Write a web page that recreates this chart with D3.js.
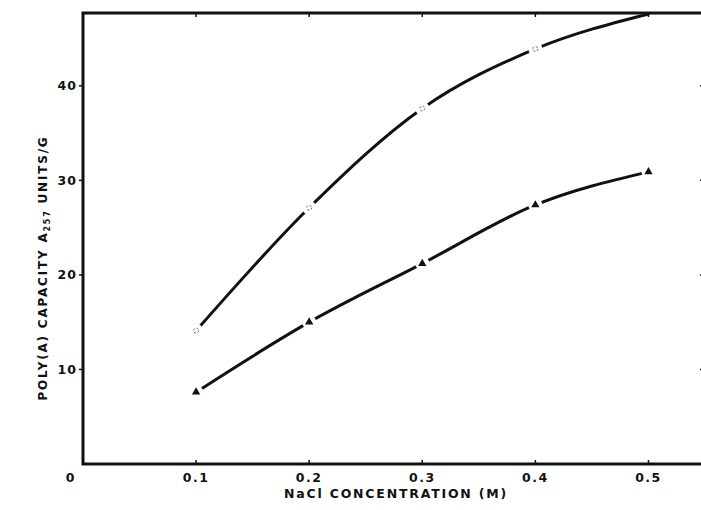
<!DOCTYPE html>
<html>
<head>
<meta charset="utf-8">
<script src="https://d3js.org/d3.v7.min.js"></script>
<style>
  body { margin: 0; background: #fff; }
  text { font-family: "DejaVu Sans", sans-serif; font-weight: bold; fill: #111; }
</style>
</head>
<body>
<svg width="701" height="510"></svg>
<script>
// values
const conc = [0.1, 0.2, 0.3, 0.4, 0.5]
const upper = [14.1, 27.1, 37.6, 43.9, 47.6]   // open circles
const lower = [7.6, 15.0, 21.2, 27.4, 30.9]    // filled triangles
const xTicks = [0.1, 0.2, 0.3, 0.4, 0.5]
const yTicks = [10, 20, 30, 40]

const svg = d3.select("svg")
const x = d3.scaleLinear().domain([0, 0.55]).range([83, 705])
const y = d3.scaleLinear().domain([0, 47.7]).range([464, 13])

const line = d3.line()
  .x((d, i) => x(conc[i]))
  .y(d => y(d))
  .curve(d3.curveMonotoneX)

// curves
;[upper, lower].forEach(s => {
  svg.append("path")
    .datum(s)
    .attr("d", line)
    .attr("fill", "none")
    .attr("stroke", "#111")
    .attr("stroke-width", 3)
    .attr("stroke-linecap", "round")
})

// little gaps in the line around each point
svg.append("g").selectAll("circle")
  .data(upper.slice(0, 4).map((v, i) => [conc[i], v]).concat(lower.map((v, i) => [conc[i], v])))
  .join("circle")
    .attr("cx", d => x(d[0]))
    .attr("cy", d => y(d[1]))
    .attr("r", 7)
    .attr("fill", "#fff")

// frame
const [x0, x1] = x.range(), [y0, y1] = y.range()
svg.append("rect")
  .attr("x", x0).attr("y", y1)
  .attr("width", x1 - x0).attr("height", y0 - y1)
  .attr("fill", "none")
  .attr("stroke", "#111")
  .attr("stroke-width", 3)

// ticks
const tk = svg.append("g").attr("stroke", "#111").attr("stroke-width", 1.5)
xTicks.forEach(t => {
  tk.append("line").attr("x1", x(t)).attr("x2", x(t)).attr("y1", y0).attr("y2", y0 - 4)
  tk.append("line").attr("x1", x(t)).attr("x2", x(t)).attr("y1", y1).attr("y2", y1 + 4)
})
yTicks.forEach(t => {
  tk.append("line").attr("x1", x0 - 4).attr("x2", x0).attr("y1", y(t)).attr("y2", y(t))
  tk.append("line").attr("x1", x1 - 5).attr("x2", x1).attr("y1", y(t)).attr("y2", y(t))
})

// markers
svg.append("g").selectAll("path")
  .data(lower)
  .join("path")
    .attr("transform", (d, i) => `translate(${x(conc[i])},${y(d)})`)
    .attr("d", d3.symbol(d3.symbolTriangle, 30))
    .attr("fill", "#111")
svg.append("g").selectAll("circle")
  .data(upper.slice(0, 4))
  .join("circle")
    .attr("cx", (d, i) => x(conc[i]))
    .attr("cy", d => y(d))
    .attr("r", 2.5)
    .attr("fill", "#fff")
    .attr("stroke", "#555")
    .attr("stroke-width", 1)
    .attr("stroke-dasharray", "2,2")

// tick labels
svg.append("g").selectAll("text")
  .data(xTicks)
  .join("text")
    .attr("x", d => x(d))
    .attr("y", 482)
    .attr("text-anchor", "middle")
    .attr("font-size", 12.5)
    .attr("letter-spacing", 1.5)
    .text(d => d.toFixed(1))
svg.append("g").selectAll("text")
  .data(yTicks)
  .join("text")
    .attr("x", 77)
    .attr("y", d => y(d) + 4.5)
    .attr("text-anchor", "end")
    .attr("font-size", 12.5)
    .attr("letter-spacing", 1)
    .text(d => d)
svg.append("text")
  .attr("x", 70).attr("y", 482)
  .attr("text-anchor", "middle")
  .attr("font-size", 12.5)
  .text("0")

// axis titles
svg.append("text")
  .attr("x", 396).attr("y", 498)
  .attr("text-anchor", "middle")
  .attr("font-size", 12.5)
  .attr("letter-spacing", 1.8)
  .text("NaCl CONCENTRATION (M)")

const yt = svg.append("text")
  .attr("transform", "translate(47,268) rotate(-90)")
  .attr("text-anchor", "middle")
  .attr("font-size", 12)
  .attr("letter-spacing", 1.8)
yt.append("tspan").text("POLY(A) CAPACITY  A")
yt.append("tspan").attr("font-size", 8).attr("dy", 3).text("257")
yt.append("tspan").attr("dy", -3).text("  UNITS/G")
</script>
</body>
</html>
